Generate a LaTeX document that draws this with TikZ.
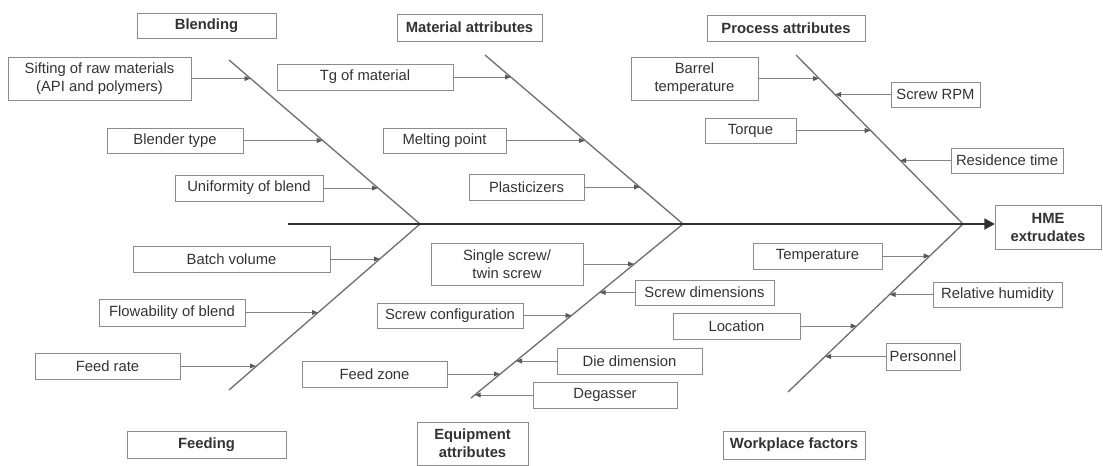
\documentclass[tikz,border=0pt]{standalone}
\usepackage{fontspec}
\setmainfont{Liberation Sans}
\usetikzlibrary{arrows.meta}
\definecolor{txt}{HTML}{333333}
\definecolor{bord}{HTML}{8C8C8C}
\definecolor{bonec}{HTML}{707070}
\definecolor{brc}{HTML}{828282}
\definecolor{spinec}{HTML}{303030}
\newcommand\mybox[6]{\node[box, minimum width={(#4-#2)*0.75pt}, minimum height={(#5-#3)*0.75pt}] (#1) at ({(#2+#4)/2},{(#3+#5)/2}) {#6};}
\newcommand\mycat[6]{\node[box, font=\fontsize{11.1}{13.5}\selectfont\bfseries, minimum width={(#4-#2)*0.75pt}, minimum height={(#5-#3)*0.75pt}] (#1) at ({(#2+#4)/2},{(#3+#5)/2}) {#6};}
\begin{document}
\begin{tikzpicture}[x=0.75pt,y=-0.75pt,
  box/.style={draw=bord, line width=0.7pt, inner sep=0pt, outer sep=0pt, align=center, text=txt,
    font=\fontsize{11.1}{13.5}\selectfont},
  bonel/.style={draw=bonec, line width=1pt},
  toarr/.style={draw=brc, line width=0.7pt, -{Triangle[length=4.5pt,width=3.6pt,color=spinec!80]}},
  spinel/.style={draw=spinec, line width=2.2pt, -{Triangle[length=8pt,width=8pt]}}]
\useasboundingbox (0,0) rectangle (1103,465);

% category boxes
\mycat{blend}{137}{13}{276}{38}{Blending}
\mycat{mat}{397}{14}{542}{41}{Material attributes}
\mycat{proc}{707}{15}{865}{41}{Process attributes}
\mycat{feed}{127}{431}{286}{458}{Feeding}
\mycat{equip}{417}{422}{528}{465}{Equipment\\attributes}
\mycat{work}{723}{431}{865}{459}{Workplace factors}
\mycat{hme}{995}{205}{1101}{249}{HME\\extrudates}

% bones
\coordinate (b1s) at (229,60);  \coordinate (j1) at (420,224); \coordinate (b4e) at (229,390);
\coordinate (b2s) at (485,55);  \coordinate (j2) at (683,224); \coordinate (b5e) at (471,398);
\coordinate (b3s) at (796,55);  \coordinate (j3) at (963,224); \coordinate (b6e) at (788,392);
\coordinate (s0) at (288,224);
\draw[bonel] (b1s) -- (j1) -- (b4e);
\draw[bonel] (b2s) -- (j2) -- (b5e);
\draw[bonel] (b3s) -- (j3) -- (b6e);
\draw[spinel] (s0) -- (s0 -| hme.west);

% cause boxes
\mybox{sift}{8}{57}{191}{100}{Sifting of raw materials\\(API and polymers)}
\mybox{btype}{107}{128}{243}{153}{Blender type}
\mybox{unif}{175}{175}{323}{201}{Uniformity of blend}
\mybox{tg}{277}{64}{453}{90}{Tg of material}
\mybox{melt}{383}{128}{506}{153}{Melting point}
\mybox{plast}{469}{174}{584}{200}{Plasticizers}
\mybox{barrel}{631}{57}{758}{100}{Barrel\\temperature}
\mybox{rpm}{891}{82}{980}{107}{Screw RPM}
\mybox{torque}{705}{118}{796}{143}{Torque}
\mybox{res}{951}{148}{1063}{173}{Residence time}
\mybox{batch}{133}{246}{330}{272}{Batch volume}
\mybox{flow}{99}{299}{245}{326}{Flowability of blend}
\mybox{frate}{35}{353}{180}{379}{Feed rate}
\mybox{single}{431}{243}{583}{285}{Single screw/\\twin screw}
\mybox{sdim}{635}{280}{774}{305}{Screw dimensions}
\mybox{sconf}{377}{303}{523}{328}{Screw configuration}
\mybox{die}{557}{348}{702}{374}{Die dimension}
\mybox{fzone}{302}{361}{447}{387}{Feed zone}
\mybox{degas}{533}{382}{677}{408}{Degasser}
\mybox{temp}{753}{243}{882}{269}{Temperature}
\mybox{rh}{933}{282}{1062}{307}{Relative humidity}
\mybox{loc}{673}{313}{800}{339}{Location}
\mybox{pers}{886}{343}{960}{370}{Personnel}

% points on bones
\coordinate (p-sift) at (250.5,78.5);
\coordinate (p-btype) at (322.7,140.5);
\coordinate (p-unif) at (378,188);
\coordinate (p-tg) at (511,77);
\coordinate (p-melt) at (585,140.5);
\coordinate (p-plast) at (640,187);
\coordinate (p-barrel) at (819,78.5);
\coordinate (p-rpm) at (835,94.5);
\coordinate (p-torque) at (870.6,130.5);
\coordinate (p-res) at (900,160.5);
\coordinate (p-batch) at (380,259);
\coordinate (p-flow) at (318,312.5);
\coordinate (p-frate) at (256,366);
\coordinate (p-single) at (634,264);
\coordinate (p-sdim) at (599.6,292.5);
\coordinate (p-sconf) at (571.5,315.5);
\coordinate (p-die) at (516,361);
\coordinate (p-fzone) at (500,374);
\coordinate (p-degas) at (474.7,395);
\coordinate (p-temp) at (929.7,256);
\coordinate (p-rh) at (889.6,294.5);
\coordinate (p-loc) at (856.7,326);
\coordinate (p-pers) at (825,356.5);

% connectors
\foreach \n in {sift,btype,unif,tg,melt,plast,barrel,torque,batch,flow,frate,single,sconf,fzone,temp,loc}
  \draw[toarr] (\n.east) -- (\n.east -| p-\n);
\foreach \n in {rpm,res,sdim,die,degas,rh,pers}
  \draw[toarr] (\n.west) -- (\n.west -| p-\n);
\end{tikzpicture}
\end{document}
